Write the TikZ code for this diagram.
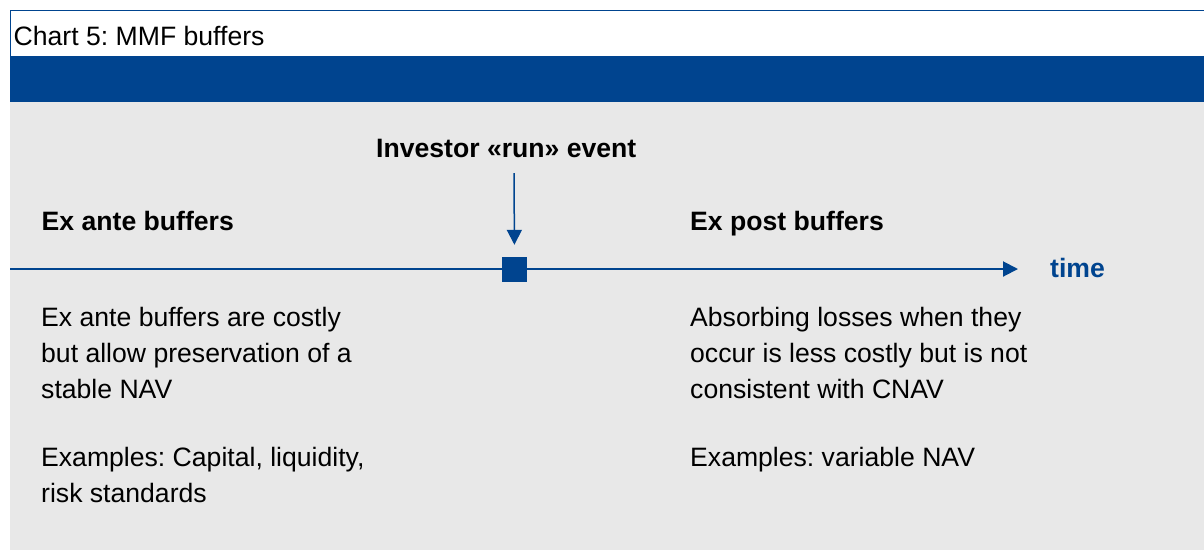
\documentclass[tikz,border=0pt]{standalone}
\usepackage{fontspec}
\setmainfont{Liberation Sans}
\usetikzlibrary{arrows.meta,positioning}
\definecolor{ecbblue}{RGB}{0,68,143}
\definecolor{panelgray}{RGB}{232,232,232}
\frenchspacing

\begin{document}
\begin{tikzpicture}[x=1pt,y=-1pt,>={Triangle[length=15pt,width=15pt]},
	txt/.style={inner sep=0pt,anchor=base west,align=left,font=\fontsize{26.6}{36}\selectfont},
	head/.style={txt,font=\fontsize{26.6}{36}\selectfont\bfseries}]
		\useasboundingbox (0,0) rectangle (1204,550);
		% title box and band
		\fill[white]      (10,10)  rectangle (1204,56);
		\fill[ecbblue]    (10,56)  rectangle (1204,102);
		\fill[panelgray]  (10,102) rectangle (1204,550);
		\draw[ecbblue,line width=1pt] (10,56) -- (10,10) -- (1204,10);
		\node[txt]  (title) at (13.5,45)  {Chart 5: MMF buffers};

		% time line
		\coordinate (tlstart) at (10,269);
		\coordinate (tlend)   at (1018,269);
		\coordinate (runtop)  at (514,173);
		\draw[->,ecbblue,line width=2pt] (tlstart) -- (tlend);
		\node[fill=ecbblue,minimum size=25pt,inner sep=0pt] (run) at (514.5,269.5) {};
		\node[head,text=ecbblue] (time) at (1050,277) {time};

		\node[head] (event)  at (376,157) {Investor «run» event};
		\draw[->,ecbblue,line width=1.5pt,shorten >=12pt] (runtop) -- (run.north);

		% left: ex ante (base = last line)
		\node[head] (ante)    at (41.5,230) {Ex ante buffers};
		\node[txt]  (antetxt) at (41,398)   {Ex ante buffers are costly\\but allow preservation of a\\stable NAV};
		\node[txt]  (anteex)  at (41,502)   {Examples: Capital, liquidity,\\risk standards};

		% right: ex post
		\node[head] (post)    at (690,230) {Ex post buffers};
		\node[txt]  (posttxt) at (690,398)  {Absorbing losses when they\\occur is less costly but is not\\consistent with CNAV};
		\node[txt]  (postex)  at (690,466)  {Examples: variable NAV};
	\end{tikzpicture}
\end{document}
